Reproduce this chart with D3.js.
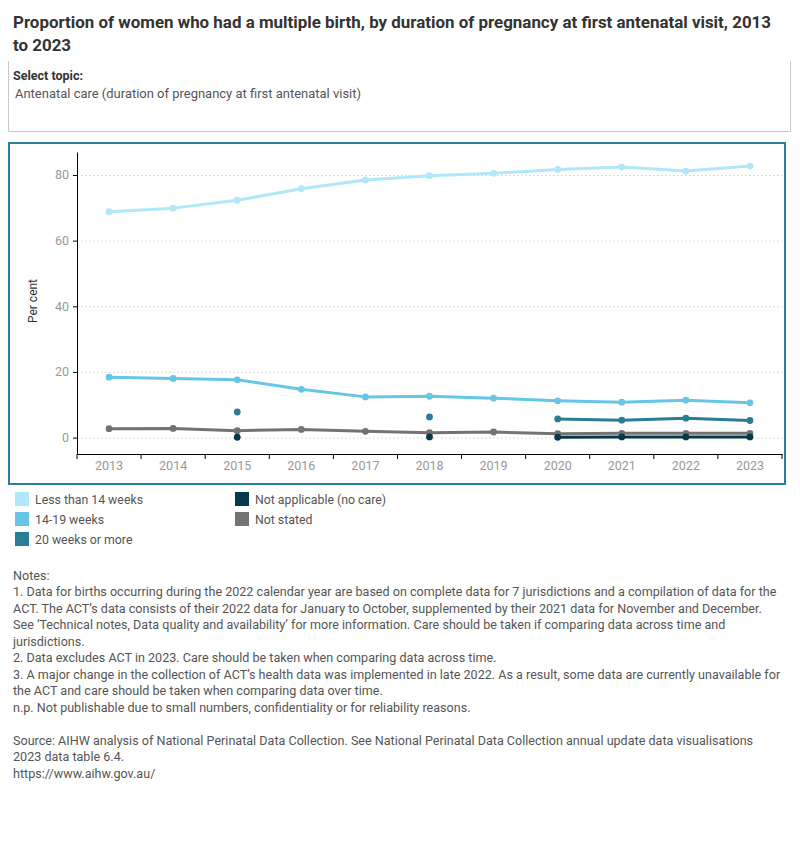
<!DOCTYPE html>
<meta charset="utf-8">
<style>
body { margin: 0; background: #fff; }
svg text { font-family: Roboto, "Noto Sans", sans-serif; }
.grid line { stroke: #cfcfcf; stroke-dasharray: 1.5,2.5; }
.series { fill: none; stroke-width: 3px; stroke-linejoin: round; }
</style>
<body>
<script src="https://d3js.org/d3.v7.min.js"></script>
<script>

// data (per cent), null = n.p.
var years = [2013, 2014, 2015, 2016, 2017, 2018, 2019, 2020, 2021, 2022, 2023];
var lessThan14 = [68.8, 69.9, 72.3, 75.8, 78.5, 79.8, 80.5, 81.7, 82.4, 81.2, 82.7];
var weeks14to19 = [18.4, 18.0, 17.6, 14.7, 12.4, 12.6, 12.0, 11.2, 10.8, 11.4, 10.6];
var weeks20plus = [null, null, 7.8, null, null, 6.3, null, 5.7, 5.3, 5.9, 5.2];
var notStated = [2.7, 2.8, 2.1, 2.5, 1.9, 1.5, 1.7, 1.2, 1.3, 1.3, 1.3];
var notApplicable = [null, null, 0.1, null, null, 0.2, null, 0.1, 0.2, 0.2, 0.2];
var yTicks = [0, 20, 40, 60, 80];

var seriesNames = ["Less than 14 weeks", "14-19 weeks", "20 weeks or more", "Not applicable (no care)", "Not stated"];
var seriesColors = ["#b0e8f9", "#66c6e8", "#2a7d96", "#063a4b", "#717374"];

var title = ["Proportion of women who had a multiple birth, by duration of pregnancy at first antenatal visit, 2013",
             "to 2023"];
var notes = [
  "Notes:",
  "1. Data for births occurring during the 2022 calendar year are based on complete data for 7 jurisdictions and a compilation of data for the",
  "ACT. The ACT\u2019s data consists of their 2022 data for January to October, supplemented by their 2021 data for November and December.",
  "See \u2018Technical notes, Data quality and availability\u2019 for more information. Care should be taken if comparing data across time and",
  "jurisdictions.",
  "2. Data excludes ACT in 2023. Care should be taken when comparing data across time.",
  "3. A major change in the collection of ACT\u2019s health data was implemented in late 2022. As a result, some data are currently unavailable for",
  "the ACT and care should be taken when comparing data over time.",
  "n.p. Not publishable due to small numbers, confidentiality or for reliability reasons.",
  "",
  "Source: AIHW analysis of National Perinatal Data Collection. See National Perinatal Data Collection annual update data visualisations",
  "2023 data table 6.4.",
  "https://www.aihw.gov.au/"
];

var svg = d3.select("body").append("svg")
    .attr("width", 800)
    .attr("height", 850);

// squeeze a block of lines so the first one has the given width
function squeeze(sel, width) {
  var ratio = width / sel.node().getComputedTextLength();
  sel.each(function() {
    var w = this.getComputedTextLength();
    if (w > 0) d3.select(this).attr("textLength", w * ratio).attr("lengthAdjust", "spacingAndGlyphs");
  });
}

// title
var t = svg.selectAll(".title").data(title).enter().append("text")
    .attr("class", "title")
    .attr("x", 13)
    .attr("y", function(d, i) { return 28 + i * 23; })
    .style("font-size", "17px")
    .style("font-weight", "bold")
    .attr("fill", "#333")
    .text(function(d) { return d; });
squeeze(t, 758);

// topic selector box
svg.append("path")
    .attr("d", "M8.5,61V131.5H790.5V61")
    .attr("fill", "none")
    .attr("stroke", "#c8c8c8");
svg.append("text")
    .attr("x", 13).attr("y", 80)
    .style("font-size", "12px").style("font-weight", "bold")
    .attr("fill", "#333")
    .attr("textLength", 70).attr("lengthAdjust", "spacingAndGlyphs")
    .text("Select topic:");
var topic = svg.append("text")
    .attr("x", 15).attr("y", 98)
    .style("font-size", "13px")
    .attr("fill", "#555")
    .text("Antenatal care (duration of pregnancy at first antenatal visit)");
squeeze(topic, 346);

// chart frame
svg.append("rect")
    .attr("x", 9).attr("y", 143)
    .attr("width", 776).attr("height", 341)
    .attr("fill", "none")
    .attr("stroke", "#2b7f9c")
    .attr("stroke-width", 2);

var x = d3.scaleBand().domain(years).range([77, 782]);
var y = d3.scaleLinear().domain([-5, 87]).range([454, 152]);

// gridlines
svg.append("g").attr("class", "grid")
  .selectAll("line").data(yTicks).enter().append("line")
    .attr("x1", x.range()[0]).attr("x2", x.range()[1])
    .attr("y1", function(d) { return y(d) + 0.5; })
    .attr("y2", function(d) { return y(d) + 0.5; });

// Y axis
var yAxis = svg.append("g")
    .attr("transform", "translate(77,0)")
    .call(d3.axisLeft(y).tickValues(yTicks).tickSize(4).tickSizeOuter(0).tickPadding(4));
yAxis.select(".domain").attr("stroke", "#000");
yAxis.selectAll(".tick line").attr("stroke", "#000");
yAxis.selectAll(".tick text").attr("fill", "#999").style("font-size", "12.5px").style("font-family", "Roboto");

svg.append("text")
    .attr("transform", "translate(37,301) rotate(-90)")
    .attr("text-anchor", "middle")
    .style("font-size", "12px")
    .attr("fill", "#333")
    .text("Per cent");

// X axis, labels at band centres, ticks at band edges
var xAxis = svg.append("g")
    .attr("transform", "translate(0,454)")
    .call(d3.axisBottom(x).tickSize(0).tickPadding(7).tickSizeOuter(0));
xAxis.select(".domain").attr("stroke", "#000");
xAxis.selectAll(".tick text").attr("fill", "#999").style("font-size", "12.5px").style("font-family", "Roboto");
xAxis.selectAll(".edge").data(d3.range(years.length + 1)).enter().append("line")
    .attr("class", "edge")
    .attr("x1", function(i) { return x.range()[0] + i * x.step(); })
    .attr("x2", function(i) { return x.range()[0] + i * x.step(); })
    .attr("y1", 0).attr("y2", 5)
    .attr("stroke", "#000");

// series
var seriesValues = [lessThan14, weeks14to19, weeks20plus, notApplicable, notStated];
var drawOrder = [0, 1, 2, 4, 3];

var line = d3.line()
    .defined(function(d) { return d.v != null; })
    .x(function(d) { return x(d.year) + x.bandwidth() / 2; })
    .y(function(d) { return y(d.v); });

drawOrder.forEach(function(k) {
  var pts = years.map(function(yr, i) { return {year: yr, v: seriesValues[k][i]}; });
  svg.append("path")
      .datum(pts)
      .attr("class", "series")
      .attr("stroke", seriesColors[k])
      .attr("d", line);
  svg.append("g").selectAll("circle")
      .data(pts.filter(function(d) { return d.v != null; }))
      .enter().append("circle")
      .attr("cx", function(d) { return x(d.year) + x.bandwidth() / 2; })
      .attr("cy", function(d) { return y(d.v); })
      .attr("r", 3.4)
      .attr("fill", seriesColors[k]);
});

// legend
var legendPos = [[15, 492], [15, 512], [15, 532], [235, 492], [235, 512]];
var legend = svg.selectAll(".legend").data(seriesNames).enter().append("g")
    .attr("class", "legend")
    .attr("transform", function(d, i) { return "translate(" + legendPos[i][0] + "," + legendPos[i][1] + ")"; });
legend.append("rect")
    .attr("width", 14).attr("height", 14)
    .attr("fill", function(d, i) { return seriesColors[i]; });
var legendText = legend.append("text")
    .attr("x", 20).attr("y", 11.5)
    .style("font-size", "13px")
    .attr("fill", "#555")
    .text(function(d) { return d; });
squeeze(legendText, 108);

// notes: one group, scaled horizontally so the longest line fits
var notesG = svg.append("g");
var n = notesG.selectAll(".note").data(notes).enter().append("text")
    .attr("class", "note")
    .attr("x", 0)
    .attr("y", function(d, i) { return 580 + i * 16.5; })
    .style("font-size", "13px")
    .attr("fill", "#555")
    .text(function(d) { return d; });
var widest = d3.max(n.nodes(), function(el) { return el.getComputedTextLength(); });
notesG.attr("transform", "translate(13,0) scale(" + Math.min(1, 768 / widest) + ",1)");

</script>
</body>
